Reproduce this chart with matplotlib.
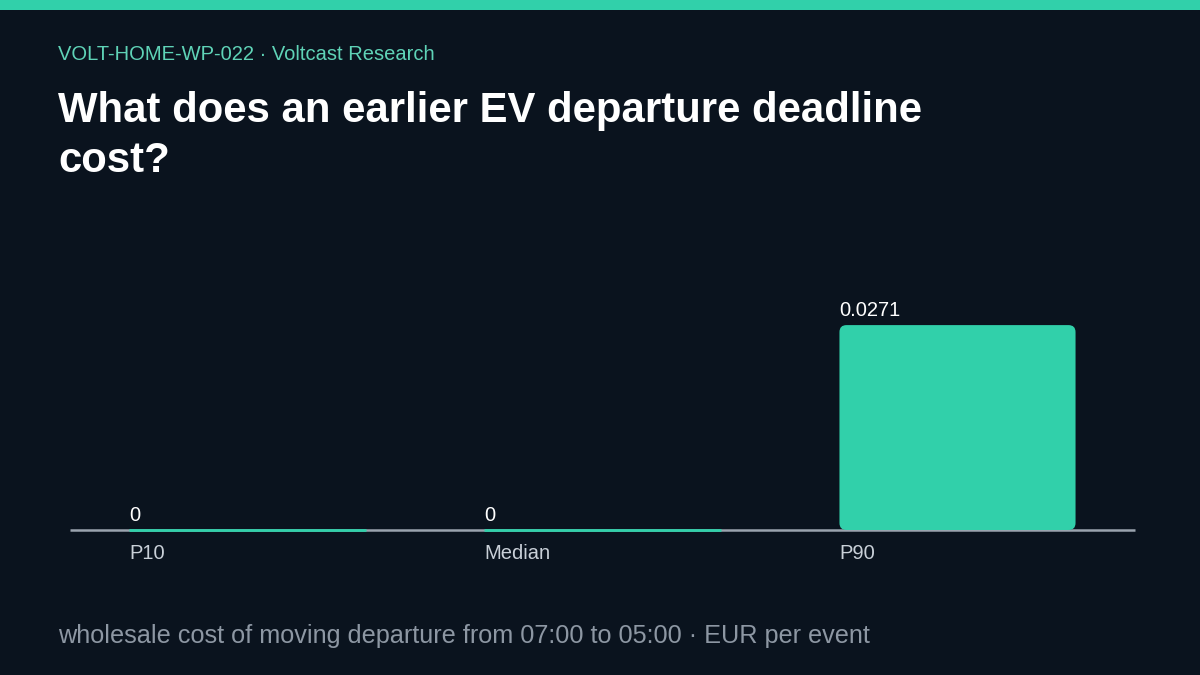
import numpy as np
from matplotlib import pyplot as plt
from matplotlib.patches import FancyBboxPatch, Rectangle

plt.rcParams['font.family'] = ['Liberation Sans', 'DejaVu Sans']

## DATA ##
categories = ['P10', 'Median', 'P90']
values = [0.0, 0.0, 0.0271]
value_labels = ['0', '0', '0.0271']

header = 'VOLT-HOME-WP-022 \u00b7 Voltcast Research'
title = 'What does an earlier EV departure deadline\ncost?'
footer = 'wholesale cost of moving departure from 07:00 to 05:00 \u00b7 EUR per event'

## STYLE ##
BG = '#0a131e'
TEAL = '#31d0aa'
HEAD = '#5fd3b7'
AXIS = '#9aa3ae'
TICK = '#c9d0d8'
FOOT = '#8d97a3'

W, H = 1200, 675
fig = plt.figure(figsize=(12, 6.75), dpi=100, facecolor=BG)

# top stripe
fig.patches.append(Rectangle((0, 1 - 10 / H), 1, 10 / H, transform=fig.transFigure,
                             facecolor=TEAL, edgecolor='none'))

fig.text(58 / W, 1 - 55 / H, header, color=HEAD, fontsize=14.5, va='center', ha='left')
fig.text(58 / W, 1 - 91 / H, title, color='white', fontsize=30.2, fontweight='bold',
         va='top', ha='left', linespacing=1.31)
fig.text(58 / W, 1 - 636 / H, footer, color=FOOT, fontsize=18.2, va='center', ha='left')

ax_left, ax_right, ax_bottom, ax_top = 70, 1135, 530, 220
ax = fig.add_axes([ax_left / W, 1 - ax_bottom / H, (ax_right - ax_left) / W, (ax_bottom - ax_top) / H])
ax.set_facecolor(BG)

x = np.arange(len(categories))
bw = 0.665
ymax = 0.041
ax.set_xlim(-0.5, len(categories) - 0.5)
ax.set_ylim(0, ymax)

# rounded corners: convert pixel radius to data units
px_x = len(categories) / (ax_right - ax_left)
px_y = ymax / (ax_bottom - ax_top)
r_px = 7
for xi, v in zip(x, values):
    if v > 0:
        fb = FancyBboxPatch((xi - bw / 2, 0), bw, v,
                            boxstyle='round,pad=0,rounding_size=%f' % (r_px * px_x),
                            mutation_aspect=px_y / px_x,
                            facecolor=TEAL, edgecolor='none', zorder=3)
        ax.add_patch(fb)
    else:
        # zero-height bar shows as a thin teal stroke on the baseline
        ax.plot([xi - bw / 2, xi + bw / 2], [v, v], color=TEAL, linewidth=2,
                solid_capstyle='butt', zorder=3, clip_on=False)

for xi, v, lab in zip(x, values, value_labels):
    ax.annotate(lab, (xi - bw / 2, v), xytext=(0, 3.5), textcoords='offset points',
                ha='left', va='bottom', color='white', fontsize=14.5)

ax.axhline(0, color=AXIS, linewidth=1.8, zorder=2, clip_on=False, solid_capstyle='butt')

for s in ax.spines.values():
    s.set_visible(False)
ax.set_yticks([])
ax.set_xticks(x - bw / 2)
ax.set_xticklabels(categories, ha='left', color=TICK, fontsize=14.5)
ax.tick_params(axis='x', length=0, pad=10)

plt.savefig('out.png', dpi=100, facecolor=BG)
